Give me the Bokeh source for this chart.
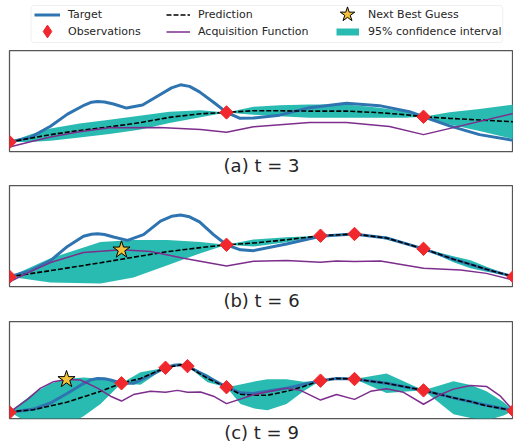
import numpy as np
from bokeh.plotting import figure
from bokeh.models import Range1d, Legend, LegendItem, Title, BoxAnnotation
from bokeh.layouts import column
from bokeh.embed import file_html
from bokeh.resources import INLINE

# ---------------- data (x: position along the domain, y: value) ----------------
# Panel (a) t = 3
a_target_x = [0, 21, 41, 58, 75, 82, 88, 95, 104, 117, 133, 150, 162, 171, 180, 190, 205, 217, 230, 244, 270, 300, 337, 370, 400, 414, 440, 470, 504]
a_target_y = [9.4, 14, 25, 37, 46, 48.8, 49.5, 49, 47, 43, 46, 56, 63, 66, 64.5, 59, 48, 38.7, 33, 33.2, 36, 43.4, 47.7, 45.4, 39.4, 34.4, 25.4, 16.7, 11]
a_band_x = [0, 20, 41, 70, 100, 130, 160, 191, 217, 244, 270, 300, 337, 370, 395, 414, 440, 470, 504]
a_mean_y = [9.4, 13, 16.7, 20.8, 24.4, 28.5, 33.8, 37.4, 38.7, 40.4, 40.3, 40, 40, 38.4, 36.5, 34.4, 32.8, 31.2, 29.4]
a_upper_y = [9.4, 16.5, 22.7, 27.8, 31.4, 35.5, 39.3, 40.9, 38.7, 44.4, 45.8, 46.5, 46.5, 43.4, 39.5, 34.4, 38.8, 42.2, 46.4]
a_lower_y = [9.4, 9.5, 10.7, 13.8, 17.4, 21.5, 28.3, 33.9, 38.7, 36.4, 34.8, 33.5, 33.5, 33.4, 33.5, 34.4, 26.8, 20.2, 12.4]
a_acq_x = [0, 20, 41, 70, 100, 150, 191, 217, 244, 300, 337, 380, 414, 504]
a_acq_y = [4.4, 9.5, 14.4, 19.5, 23.4, 23.7, 21.7, 19, 24.4, 28.7, 28.7, 24.7, 16.7, 37.7]
a_obs_x = [0, 217, 414]
a_obs_y = [9.4, 38.7, 34.4]

# Panel (b) t = 6
b_target_x = [0, 21, 41, 58, 74, 82, 88, 95, 104, 118, 134, 151, 162, 171, 180, 190, 204, 217, 231, 244, 277, 311, 344, 377, 414, 444, 477, 504]
b_target_y = [9.7, 15.7, 25.7, 39.7, 49.7, 51.8, 52.3, 51.5, 49, 45.7, 51.3, 64.7, 69.5, 70.7, 69, 64, 51.3, 41.3, 36.3, 35.5, 42, 49.7, 52, 48, 37.3, 27, 17, 9.7]
b_band_x = [0, 41, 91, 124, 158, 191, 217, 244, 277, 311, 345, 377, 414, 444, 461, 477, 504]
b_mean_y = [9.7, 15.7, 23.5, 29, 34.5, 38.5, 41.3, 43, 46.3, 50.3, 52, 48, 37.3, 27, 22, 17, 9.7]
b_upper_y = [9.7, 28, 44, 46, 46, 44, 41.3, 46.5, 48.8, 50.3, 52, 49.5, 37.3, 30, 26, 19.5, 9.7]
b_lower_y = [9.7, 4, 3, 9, 21, 33, 41.3, 39.5, 43.8, 50.3, 52, 46.5, 37.3, 24, 18, 14.5, 9.7]
b_acq_x = [0, 21, 41, 74, 112, 141, 174, 217, 244, 277, 311, 327, 345, 371, 414, 451, 477, 504]
b_acq_y = [4.7, 14.7, 23.7, 33.7, 36.3, 34.7, 28, 20.3, 25, 25.7, 24, 25.3, 24.7, 25.3, 18, 16.3, 13, 6.3]
b_obs_x = [0, 217, 311, 345, 414, 504]
b_obs_y = [9.7, 41.3, 50.3, 52, 37.3, 9.7]
b_next_x = [112]
b_next_y = [36.3]

# Panel (c) t = 9
c_target_x = [0, 24, 41, 58, 74, 82, 88, 95, 101, 112, 124, 141, 156, 164, 171, 178, 198, 217, 231, 244, 277, 311, 327, 345, 377, 414, 444, 477, 504]
c_target_y = [6.3, 9.7, 16, 26, 36, 40, 41.3, 41, 39.7, 36.3, 36.3, 44.7, 52.3, 54.8, 55.3, 54, 43, 32.3, 26.5, 25.8, 31.3, 39, 41.3, 40.7, 36.3, 29, 21.3, 13.7, 8]
c_band_x = [0, 24, 41, 58, 74, 91, 112, 131, 156, 171, 178, 198, 217, 231, 244, 258, 277, 294, 311, 327, 345, 377, 414, 444, 461, 477, 494, 504]
c_mean_y = [7, 9, 13, 17, 22.3, 28, 36.3, 41.3, 52.3, 55.3, 54, 41.3, 32.3, 25, 24, 24, 28, 33, 39, 41.3, 40.7, 36.3, 29, 21.3, 17.5, 13, 10, 8]
c_upper_y = [7, 26, 36, 41, 42.3, 41, 36.3, 47.8, 52.3, 56.3, 54, 45.3, 32.3, 35, 38, 40.5, 40.5, 38, 39, 42.3, 40.7, 46.3, 29, 38.3, 34.5, 28, 17, 8]
c_lower_y = [7, -8, -10, -7, 2.3, 15, 36.3, 34.8, 52.3, 54.3, 54, 37.3, 32.3, 15, 10.5, 8.5, 15, 28, 39, 40.3, 40.7, 26.3, 29, 4.3, 0.5, -2, 3, 8]
c_acq_x = [0, 18, 31, 44, 57, 71, 88, 101, 112, 124, 141, 156, 168, 178, 191, 204, 217, 244, 261, 277, 291, 311, 327, 345, 361, 377, 394, 414, 431, 444, 461, 477, 491, 504]
c_acq_y = [6.3, 19.7, 31.3, 38, 40.3, 39.7, 31.3, 23, 18, 24.7, 28, 27, 29, 27, 27.3, 23, 15.3, 24.5, 28, 31.3, 29, 19, 24.7, 19.7, 28, 30.7, 27, 14.7, 24.7, 30.3, 34, 33, 23, 8]
c_obs_x = [0, 112, 156, 178, 217, 311, 345, 414, 504]
c_obs_y = [6.3, 36.3, 52.3, 54, 32.3, 39, 40.7, 29, 8]
c_next_x = [57]
c_next_y = [40.3]

captions = ["(a) t = 3", "(b) t = 6", "(c) t = 9"]
legend_labels = ["Target", "Observations", "Prediction", "Acquisition Function",
                 "Next Best Guess", "95% confidence interval"]

# ---------------- style ----------------
BLUE = "#2e74b0"
TEAL = "#12b4a9"
PURPLE = "#7d2e8d"
RED = "#f0282d"
GOLD = "#f3c23a"
FONT = "DejaVu Sans"
W = 513


def panel(tx, ty, bx, my, up, lo, ax, ay, ox, oy, nx, ny, caption, height, mb):
    p = figure(width=W, height=height, x_range=Range1d(0, 504), y_range=Range1d(0, 100),
               x_axis_type=None, y_axis_type=None, output_backend="svg", toolbar_location=None,
               min_border_left=9, min_border_right=0, min_border_top=2, min_border_bottom=mb)
    p.outline_line_color = "#555555"
    p.outline_line_width = 1.25
    p.varea(x=bx, y1=lo, y2=up, fill_color=TEAL, fill_alpha=0.9)
    p.line(tx, ty, line_color=BLUE, line_width=3, line_join="round")
    p.line(bx, my, line_color="black", line_width=1.6, line_dash="5 2")
    p.line(ax, ay, line_color=PURPLE, line_width=1.5)
    p.scatter(ox, oy, marker="square", angle=np.pi / 4, size=9.5, fill_color=RED, line_color=RED)
    if nx:
        p.scatter(nx, ny, marker="star", size=18, fill_color=GOLD, line_color="black", line_width=1)
    p.add_layout(Title(text=caption, align="center", text_font=FONT, text_font_size="18px",
                       text_font_style="normal", text_color="#262626", standoff=3), "below")
    return p


pa = panel(a_target_x, a_target_y, a_band_x, a_mean_y, a_upper_y, a_lower_y, a_acq_x, a_acq_y,
           a_obs_x, a_obs_y, None, None, captions[0], 135, 32)
pb = panel(b_target_x, b_target_y, b_band_x, b_mean_y, b_upper_y, b_lower_y, b_acq_x, b_acq_y,
           b_obs_x, b_obs_y, b_next_x, b_next_y, captions[1], 136, 33)
pc = panel(c_target_x, c_target_y, c_band_x, c_mean_y, c_upper_y, c_lower_y, c_acq_x, c_acq_y,
           c_obs_x, c_obs_y, c_next_x, c_next_y, captions[2], 125, 22)

# ---------------- legend strip ----------------
LH = 48
lg = figure(width=W, height=LH, x_range=Range1d(0, W), y_range=Range1d(0, LH),
            x_axis_type=None, y_axis_type=None, output_backend="svg", toolbar_location=None,
            min_border=0, outline_line_color=None)
lg.add_layout(BoxAnnotation(left=22, right=502, bottom=6, top=43, fill_color="white", fill_alpha=0.8,
                            line_color="#cccccc", line_width=1, border_radius=3))
nan = [np.nan]
r_t = lg.line(nan, nan, line_color=BLUE, line_width=3)
r_o = lg.scatter(nan, nan, marker="diamond", fill_color=RED, line_color=RED)
r_m = lg.line(nan, nan, line_color="black", line_width=1.6, line_dash="5 2")
r_a = lg.line(nan, nan, line_color=PURPLE, line_width=1.5)
r_n = lg.scatter(nan, nan, marker="star", fill_color=GOLD, line_color="black", line_width=1)
r_c = lg.line(nan, nan, line_color=TEAL, line_width=7, line_alpha=0.9, line_cap="butt")

# (renderer, label, left, row centre, glyph width, glyph height, standoff)
entries = [(r_t, legend_labels[0], 25, 14, 26, 17, 8),
           (r_o, legend_labels[1], 22, 31, 32, 32, 5),
           (r_m, legend_labels[2], 157, 14, 24, 17, 8),
           (r_a, legend_labels[3], 157, 31, 24, 17, 8),
           (r_n, legend_labels[4], 319, 14, 38, 38, 2),
           (r_c, legend_labels[5], 327, 31, 23, 17, 9)]
for r, label, x0, yc, gw, gh, so in entries:
    leg = Legend(items=[LegendItem(label=label, renderers=[r])],
                 location=(x0, LH - yc - gh / 2), orientation="vertical",
                 glyph_width=gw, glyph_height=gh, spacing=0, padding=0, margin=0,
                 label_standoff=so, label_height=10,
                 border_line_color=None, background_fill_alpha=0,
                 label_text_font=FONT, label_text_font_size="11px", label_text_color="#262626")
    lg.add_layout(leg)

layout = column(lg, pa, pb, pc, spacing=0)

open("out.html", "w").write(file_html(layout, INLINE))
